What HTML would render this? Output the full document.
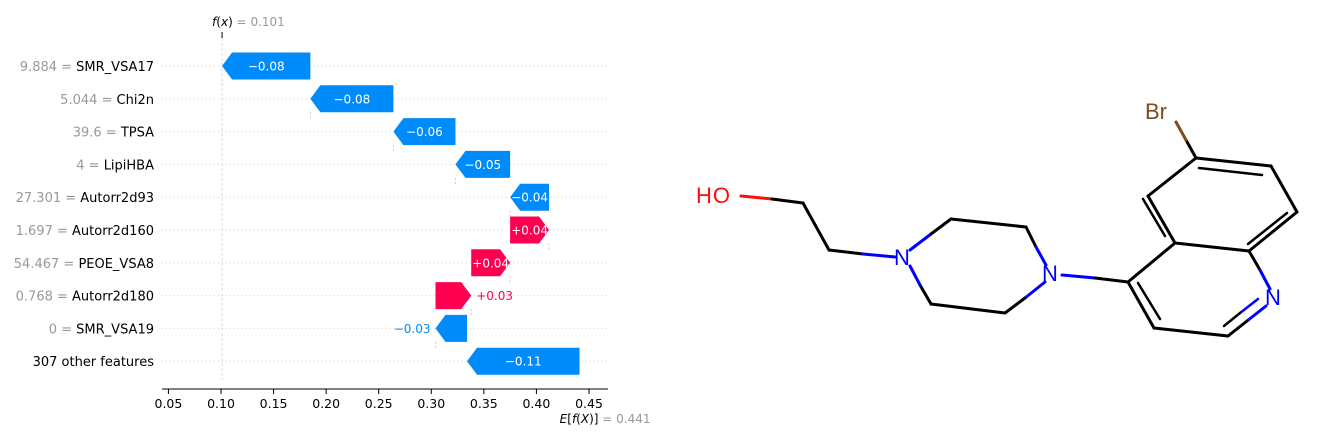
<!DOCTYPE html>
<html><head><meta charset="utf-8"><style>
html,body{margin:0;padding:0;background:#fff;width:1330px;height:441px;overflow:hidden}
svg{display:block;font-family:"DejaVu Sans","Liberation Sans",sans-serif}
</style></head><body>
<svg id="chart" width="1330" height="441" viewBox="0 0 1330 441" xmlns="http://www.w3.org/2000/svg">
<g id="plot"></g>
<g id="mol" stroke-width="3" stroke-linecap="round" fill="none">
  <line x1="741" y1="196" x2="772" y2="199" stroke="#ff0d0d"/>
  <line x1="772" y1="199" x2="803" y2="203" stroke="#000"/>
  <line x1="803" y1="203" x2="829" y2="250" stroke="#000"/>
  <line x1="829" y1="250" x2="863" y2="254" stroke="#000"/>
  <line x1="863" y1="254" x2="895" y2="257" stroke="#0000ff"/>
  <line x1="910" y1="250" x2="931" y2="234" stroke="#0000ff"/>
  <line x1="931" y1="234" x2="951" y2="219" stroke="#000"/>
  <line x1="951" y1="219" x2="1026" y2="227" stroke="#000"/>
  <line x1="1026" y1="227" x2="1036" y2="247" stroke="#000"/>
  <line x1="1036" y1="247" x2="1046" y2="265" stroke="#0000ff"/>
  <line x1="1045" y1="282" x2="1025" y2="298" stroke="#0000ff"/>
  <line x1="1025" y1="298" x2="1005" y2="313" stroke="#000"/>
  <line x1="1005" y1="313" x2="931" y2="304" stroke="#000"/>
  <line x1="931" y1="304" x2="920" y2="285" stroke="#000"/>
  <line x1="920" y1="285" x2="910" y2="266" stroke="#0000ff"/>
  <line x1="1062" y1="275" x2="1095" y2="278" stroke="#0000ff"/>
  <line x1="1095" y1="278" x2="1128" y2="282" stroke="#000"/>
  <line x1="1128" y1="282" x2="1175" y2="243" stroke="#000"/>
  <line x1="1175" y1="243" x2="1148" y2="196" stroke="#000"/>
  <line x1="1165" y1="236" x2="1143" y2="199" stroke="#000" stroke-width="2.5"/>
  <line x1="1148" y1="196" x2="1196" y2="158" stroke="#000"/>
  <line x1="1196" y1="158" x2="1271" y2="166" stroke="#000"/>
  <line x1="1199" y1="168" x2="1262" y2="175" stroke="#000" stroke-width="2.5"/>
  <line x1="1271" y1="166" x2="1297" y2="212" stroke="#000"/>
  <line x1="1297" y1="212" x2="1249" y2="251" stroke="#000"/>
  <line x1="1287" y1="213" x2="1248" y2="244" stroke="#000" stroke-width="2.5"/>
  <line x1="1249" y1="251" x2="1175" y2="243" stroke="#000"/>
  <line x1="1249" y1="251" x2="1260" y2="270" stroke="#000"/>
  <line x1="1260" y1="270" x2="1270" y2="289" stroke="#0000ff"/>
  <line x1="1266" y1="306" x2="1247" y2="321" stroke="#0000ff"/>
  <line x1="1247" y1="321" x2="1228" y2="336" stroke="#000"/>
  <line x1="1258" y1="299" x2="1240" y2="313" stroke="#0000ff" stroke-width="2.5"/>
  <line x1="1240" y1="313" x2="1224" y2="326" stroke="#000" stroke-width="2.5"/>
  <line x1="1228" y1="336" x2="1154" y2="328" stroke="#000"/>
  <line x1="1154" y1="328" x2="1128" y2="282" stroke="#000"/>
  <line x1="1160" y1="319" x2="1138" y2="283" stroke="#000" stroke-width="2.5"/>
  <line x1="1196" y1="158" x2="1186" y2="140" stroke="#000"/>
  <line x1="1186" y1="140" x2="1176" y2="122" stroke="#7f4c19"/>
  <g stroke="none" font-size="22" font-family="Liberation Sans, sans-serif">
    <text x="696" y="203" fill="#ff0d0d" letter-spacing="1">HO</text>
    <text x="894" y="265" fill="#0000ff">N</text>
    <text x="1042" y="281" fill="#0000ff">N</text>
    <text x="1265" y="305" fill="#0000ff">N</text>
    <text x="1145" y="119" fill="#7f4c19">Br</text>
  </g>
</g>
</svg>
<script>
const features = ["SMR_VSA17","Chi2n","TPSA","LipiHBA","Autorr2d93","Autorr2d160","PEOE_VSA8","Autorr2d180","SMR_VSA19","307 other features"];
const featureValues = ["9.884","5.044","39.6","4","27.301","1.697","54.467","0.768","0",""];
const shapValues = [-0.084,-0.079,-0.059,-0.052,-0.037,0.037,0.037,0.034,-0.030,-0.107];
const baseValue = 0.441;
const xTicks = [0.05,0.10,0.15,0.20,0.25,0.30,0.35,0.40,0.45];

const NS="http://www.w3.org/2000/svg";
const g=document.getElementById('plot');
const X=v=>221+(v-0.10)*1051.4;
const Y=i=>66+i*32.8;
function mk(t,a){const e=document.createElementNS(NS,t);for(const k in a)e.setAttribute(k,a[k]);g.appendChild(e);return e;}
function span(parent,txt,attrs){const s=document.createElementNS(NS,'tspan');for(const k in attrs)s.setAttribute(k,attrs[k]);s.textContent=txt;parent.appendChild(s);return s;}
const fx=baseValue+shapValues.reduce((a,b)=>a+b,0);
features.forEach((f,i)=>{
  const l=mk('line',{x1:162,x2:608,y1:Y(i),y2:Y(i),stroke:'#ccc','stroke-width':1,'stroke-dasharray':'1,3'});
  
  
});
const fl=mk('line',{x1:X(fx),x2:X(fx),y1:38,y2:380,stroke:'#ddd','stroke-width':1,'stroke-dasharray':'3,2'});


const ft=mk('line',{x1:X(fx),x2:X(fx),y1:32,y2:38,stroke:'#000','stroke-width':1});


let cur=baseValue;
const starts=[];
for(let i=features.length-1;i>=0;i--){starts[i]=cur;cur+=shapValues[i];}
for(let i=0;i<features.length;i++){
  const s=starts[i],e=s+shapValues[i],v=shapValues[i];
  const pos=v>0;const col=pos?'#ff0051':'#008bfb';
  const x0=X(s),x1=X(e),y=Y(i),h=27;
  const w=Math.abs(x1-x0);const hw=Math.min(10,w);
  let pts;
  if(pos){pts=[[x0,y-h/2],[x1-hw,y-h/2],[x1,y],[x1-hw,y+h/2],[x0,y+h/2]];}
  else{pts=[[x0,y-h/2],[x1+hw,y-h/2],[x1,y],[x1+hw,y+h/2],[x0,y+h/2]];}
  const p=mk('polygon',{points:pts.map(q=>q.join(',')).join(' '),fill:col});
  
  
  if(i<features.length-1){
    const bl=mk('line',{x1:x1,x2:x1,y1:y+h/2,y2:y+h/2+7,stroke:'#ccc','stroke-width':1,'stroke-dasharray':'2,2'});
    
    
  }
  const txt=(pos?'+':'\u2212')+Math.abs(v).toFixed(2);
  const mid=(x0+x1)/2;
  let t;
  if(w>38){t=mk('text',{x:mid,y:y+4.5,'text-anchor':'middle','font-size':12,fill:'#fff'});}
  else if(pos){t=mk('text',{x:Math.max(x0,x1)+5,y:y+4.5,'font-size':12,fill:col});}
  else{t=mk('text',{x:Math.min(x0,x1)-5,y:y+4.5,'text-anchor':'end','font-size':12,fill:col});}
  t.textContent=txt;
  
  
  const yl=mk('text',{x:154,y:y+5,'text-anchor':'end','font-size':13,fill:'#000'});
  if(featureValues[i]!==''){span(yl,featureValues[i]+' = ',{fill:'#999'});}
  span(yl,features[i],{});
  
  
}
const ax=mk('line',{x1:162,x2:608,y1:389,y2:389,stroke:'#000','stroke-width':1});


xTicks.forEach(v=>{
  const tk=mk('line',{x1:X(v),x2:X(v),y1:389,y2:394,stroke:'#000','stroke-width':1});
  
  
  const tl=mk('text',{x:X(v),y:408,'text-anchor':'middle','font-size':12.5,fill:'#000'});
  tl.textContent=v.toFixed(2);
  
  
});
const el=mk('text',{x:X(baseValue)+71,y:423,'text-anchor':'end','font-size':12,fill:'#000'});
span(el,'E',{'font-style':'italic'});span(el,'[',{});span(el,'f',{'font-style':'italic'});span(el,'(',{});span(el,'X',{'font-style':'italic'});span(el,')] ',{});span(el,'= '+baseValue.toFixed(3),{fill:'#999'});


const fxl=mk('text',{x:X(fx)-10,y:26,'font-size':12,fill:'#000'});
span(fxl,'f',{'font-style':'italic'});span(fxl,'(',{});span(fxl,'x',{'font-style':'italic'});span(fxl,') ',{});span(fxl,'= '+fx.toFixed(3),{fill:'#999'});


</script>
</body></html>
